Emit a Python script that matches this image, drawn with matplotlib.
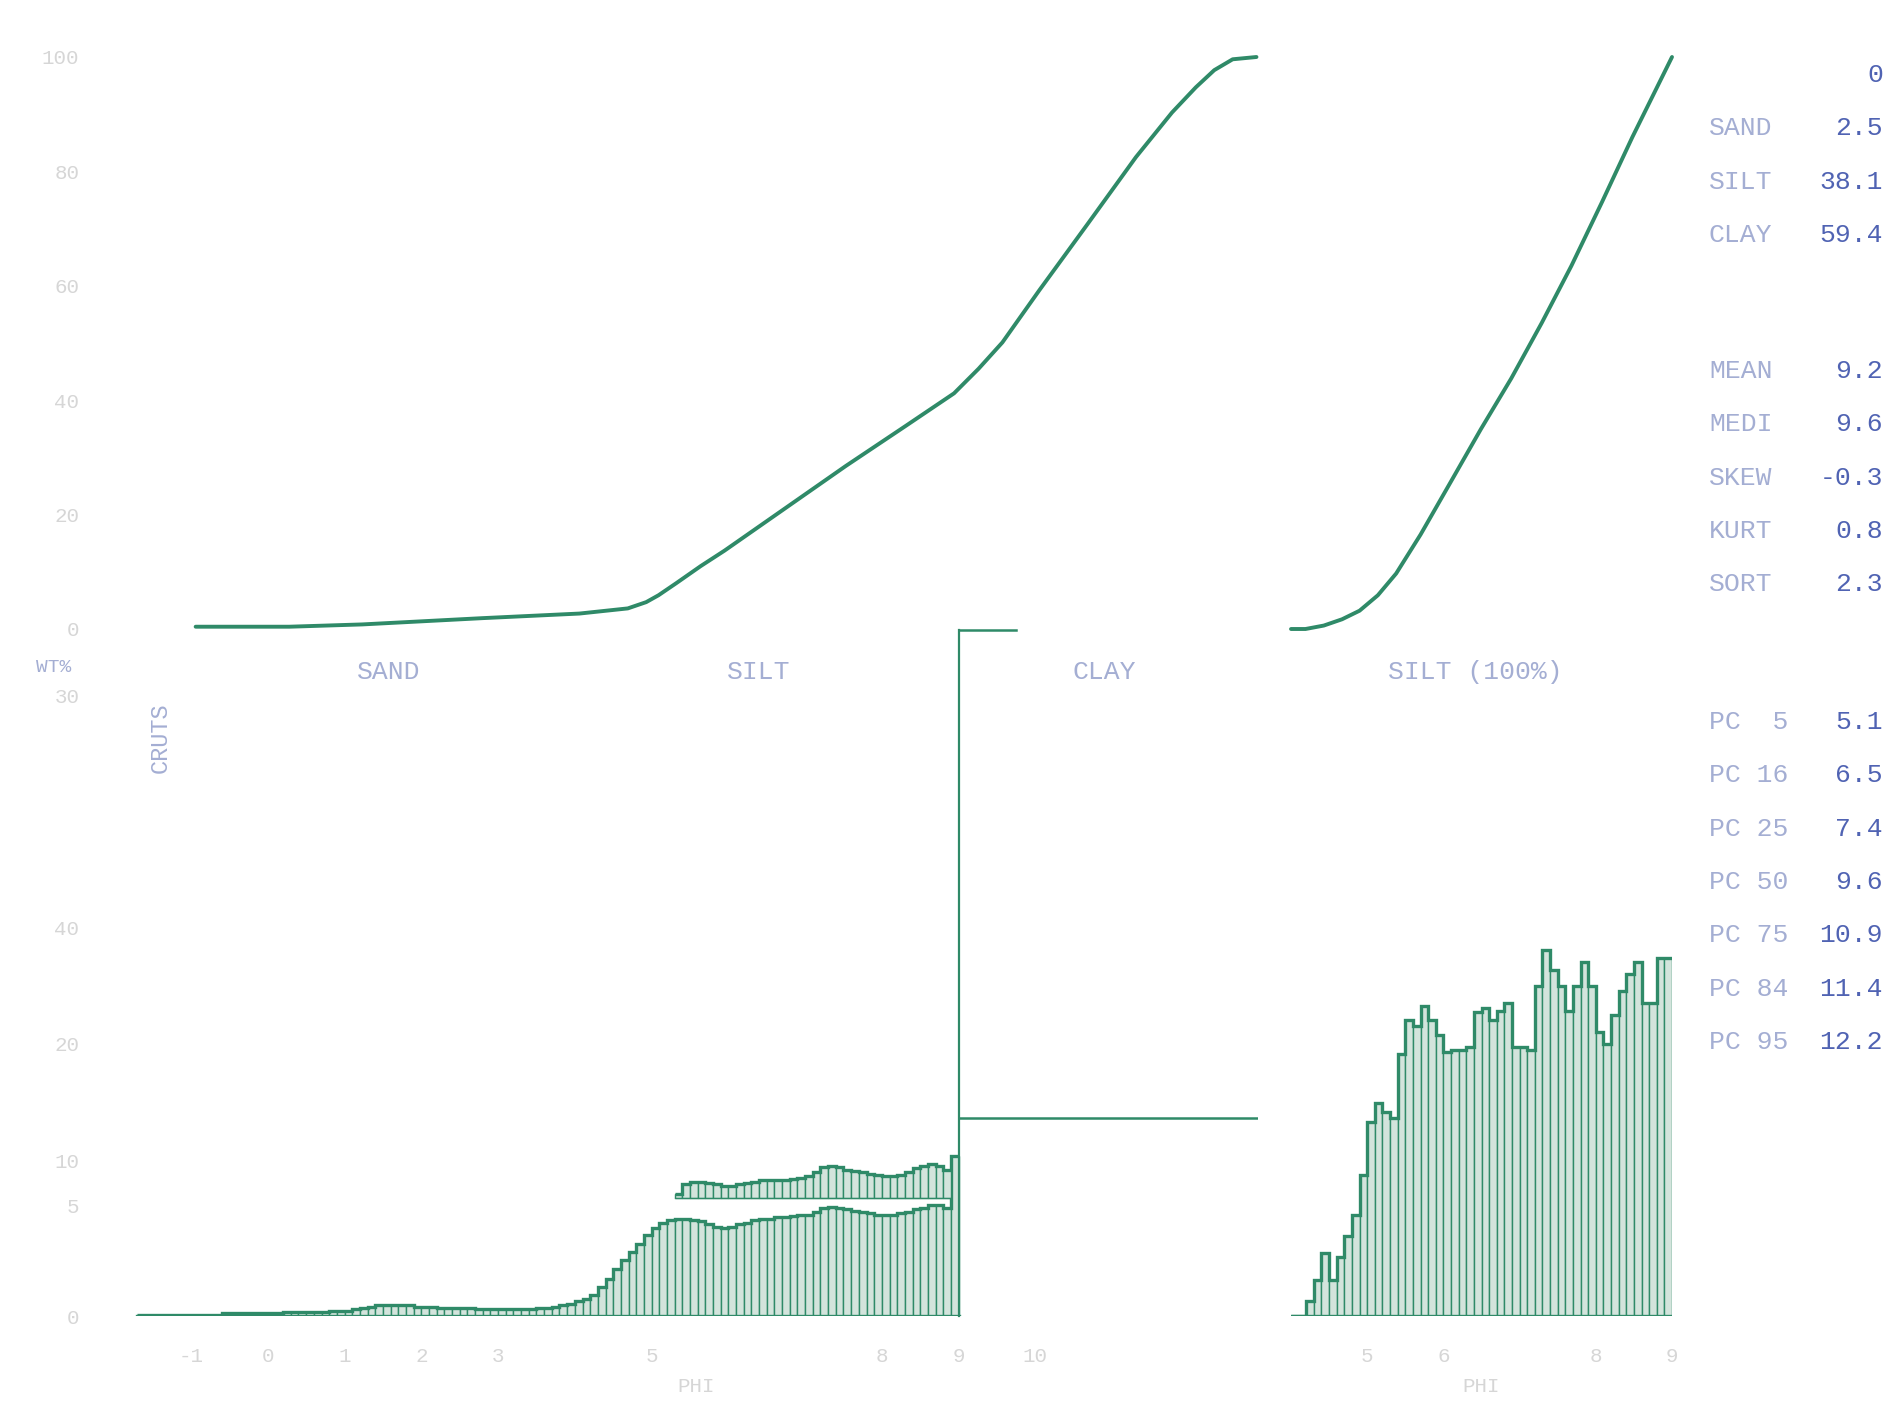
import numpy as np
import matplotlib.pyplot as plt

plt.rcParams['font.family'] = ['Liberation Mono', 'DejaVu Sans Mono']

GREEN = '#2f8a68'
FILL = '#d3e4dc'
LBL = '#a4aed3'
VAL = '#5063b3'
TICK = '#d6d6d6'

# cumulative curve, whole sample (phi, cumulative %)
cum_phi = [-0.94, 0.28, 1.23, 2.80, 4.06, 4.69, 4.93, 5.09, 5.32, 5.64, 5.95, 6.74,
           7.53, 8.31, 8.94, 9.26, 9.57, 10.05, 10.68, 11.31, 11.78, 12.09, 12.33,
           12.57, 12.88]
cum_pct = [0.4, 0.4, 0.8, 1.9, 2.7, 3.6, 4.7, 5.9, 8.0, 11.0, 13.7, 21.1,
           28.5, 35.5, 41.2, 45.5, 50.1, 59.2, 70.8, 82.5, 90.3, 94.7, 97.7,
           99.6, 100.0]

# cumulative curve, silt fraction recalculated to 100 %
silt_phi = [4.0, 4.19, 4.43, 4.67, 4.90, 5.14, 5.38, 5.70, 6.10, 6.49, 6.89, 7.29,
            7.68, 8.08, 8.48, 9.0]
silt_pct = [0.0, 0.0, 0.6, 1.7, 3.2, 5.9, 9.7, 16.5, 25.8, 34.9, 43.8, 53.5,
            63.5, 74.6, 86.0, 100.0]

# weight % per 0.1 phi class, from -1.7 to 9.0 phi
sand_wt = [0.01, 0.01, 0.01, 0.01, 0.01, 0.01, 0.01,
           0.01, 0.01, 0.01, 0.01, 0.02, 0.02, 0.02, 0.02, 0.02, 0.02,
           0.02, 0.02, 0.03, 0.03, 0.03, 0.03, 0.03, 0.03, 0.04, 0.04,
           0.04, 0.05, 0.06, 0.07, 0.08, 0.08, 0.08, 0.08, 0.08, 0.07,
           0.07, 0.07, 0.06, 0.06, 0.06, 0.06, 0.06, 0.05, 0.05, 0.05,
           0.05, 0.05, 0.05, 0.05, 0.05, 0.06, 0.06, 0.07, 0.08, 0.09]
silt_wt = [0.11, 0.13, 0.16, 0.22, 0.28, 0.35, 0.42, 0.48, 0.54, 0.61,
           0.66, 0.70, 0.72, 0.73, 0.73, 0.72, 0.71, 0.69, 0.67, 0.66,
           0.67, 0.69, 0.70, 0.72, 0.73, 0.73, 0.74, 0.74, 0.75, 0.76,
           0.76, 0.78, 0.81, 0.82, 0.81, 0.80, 0.79, 0.78, 0.77, 0.76,
           0.76, 0.76, 0.77, 0.78, 0.80, 0.81, 0.83, 0.83, 0.81, 1.20]
# double-struck copy of the silt histogram (5.3 to 8.9 phi), baseline 0.89
ghost_base = 0.89
ghost_wt = [0.92, 0.99, 1.01, 1.01, 1.00, 0.99, 0.98,
            0.98, 0.99, 1.00, 1.01, 1.02, 1.02, 1.02, 1.02, 1.03, 1.04,
            1.05, 1.08, 1.12, 1.13, 1.12, 1.10, 1.09, 1.08, 1.07, 1.06,
            1.05, 1.05, 1.06, 1.08, 1.11, 1.13, 1.14, 1.13, 1.10]
# clay lumped beyond 9 phi
clay_start, clay_end = 9.0, 12.9
clay_level = 1.485
clay_mark, clay_mark_end = 5.15, 9.75

# silt (100 %) per 0.1 phi class, 4.0 to 9.0 phi
silt100_wt = [0.0, 0.0, 0.11, 0.27, 0.47, 0.27, 0.44, 0.60, 0.76, 1.06,
              1.46, 1.60, 1.53, 1.49, 1.97, 2.22, 2.18, 2.33, 2.22, 2.11,
              1.98, 2.00, 2.00, 2.02, 2.28, 2.31, 2.22, 2.29, 2.35, 2.02,
              2.02, 2.00, 2.48, 2.75, 2.60, 2.48, 2.29, 2.48, 2.66, 2.48,
              2.13, 2.04, 2.26, 2.44, 2.57, 2.66, 2.35, 2.35, 2.69, 2.69]

stat_names = ['', 'SAND', 'SILT', 'CLAY']
stat_vals = ['0', '2.5', '38.1', '59.4']
mom_names = ['MEAN', 'MEDI', 'SKEW', 'KURT', 'SORT']
mom_vals = ['9.2', '9.6', '-0.3', '0.8', '2.3']
pc_names = ['PC  5', 'PC 16', 'PC 25', 'PC 50', 'PC 75', 'PC 84', 'PC 95']
pc_vals = ['5.1', '6.5', '7.4', '9.6', '10.9', '11.4', '12.2']

fig = plt.figure(figsize=(18.96, 14.12), dpi=100)
W, H = 1896, 1412


def rect(x0, y0, x1, y1):
    return [x0 / W, 1 - y1 / H, (x1 - x0) / W, (y1 - y0) / H]


ax1 = fig.add_axes(rect(135, 57, 1258, 629))
ax2 = fig.add_axes(rect(1291, 57, 1672, 629))
ax3 = fig.add_axes(rect(135, 617, 1258, 1316))
ax4 = fig.add_axes(rect(1291, 617, 1672, 1316))
for ax in (ax1, ax2, ax3, ax4):
    ax.set_facecolor('none')
    for s in ax.spines.values():
        s.set_visible(False)
    ax.tick_params(length=0, colors=TICK, labelsize=15)

# top-left cumulative
ax1.plot(cum_phi, cum_pct, color=GREEN, lw=2.8, clip_on=False,
         solid_joinstyle='round', solid_capstyle='round')
ax1.set_xlim(-1.73, 12.9)
ax1.set_ylim(0, 100)
ax1.set_xticks([])
ax1.set_yticks([0, 20, 40, 60, 80, 100], ['0', '20', '40', '60', '80', '100'])
ax1.tick_params(axis='y', pad=40)

# top-right cumulative (silt 100 %)
ax2.plot(silt_phi, silt_pct, color=GREEN, lw=2.8, clip_on=False,
         solid_joinstyle='round', solid_capstyle='round')
ax2.set_xlim(4.0, 9.0)
ax2.set_ylim(0, 100)
ax2.set_xticks([])
ax2.set_yticks([])

# bottom-left histogram
edges = np.round(np.arange(-1.7, 9.0001, 0.1), 2)
wt = sand_wt + silt_wt
ax3.bar(edges[:-1], wt, width=0.1, align='edge', facecolor=FILL,
        edgecolor=GREEN, lw=1.0)
ax3.stairs(wt, edges, baseline=None, color=GREEN, lw=2.4)
ax3.plot([edges[0], edges[-1]], [0, 0], color=GREEN, lw=2.4)
g_edges = np.round(np.arange(5.3, 8.9001, 0.1), 2)
g_h = [v - ghost_base for v in ghost_wt]
ax3.bar(g_edges[:-1], g_h, bottom=ghost_base, width=0.1, align='edge',
        facecolor=FILL, edgecolor=GREEN, lw=1.0)
ax3.stairs(ghost_wt, g_edges, baseline=None, color=GREEN, lw=2.4)
ax3.plot([g_edges[0], g_edges[-1]], [ghost_base, ghost_base], color=GREEN, lw=1.0, alpha=0.6)
ax3.plot([clay_start, clay_start], [0, clay_mark], color=GREEN, lw=1.6, clip_on=False)
ax3.plot([clay_start, clay_mark_end], [clay_mark, clay_mark], color=GREEN, lw=1.8, clip_on=False)
ax3.plot([clay_start, clay_end], [clay_level, clay_level], color=GREEN, lw=1.8)
ax3.set_xlim(-1.73, 12.9)
ax3.set_ylim(0, 5.25)
ax3.set_xticks([-1, 0, 1, 2, 3, 5, 8, 9, 10], ['-1', '0', '1', '2', '3', '5', '8', '9', '10'])
ax3.set_yticks([0, 0.83, 1.17, 2.05, 2.92, 3.69, 4.66], ['0', '5', '10', '20', '40', '', '30'])
ax3.tick_params(axis='x', pad=22)
ax3.tick_params(axis='y', pad=40)
ax3.set_xlabel('PHI', color=TICK, fontsize=15, labelpad=8)

# bottom-right histogram (silt 100 %)
s_edges = np.round(np.arange(4.0, 9.0001, 0.1), 2)
ax4.bar(s_edges[:-1], silt100_wt, width=0.1, align='edge', facecolor=FILL,
        edgecolor=GREEN, lw=1.0)
ax4.stairs(silt100_wt, s_edges, baseline=None, color=GREEN, lw=2.4)
ax4.plot([s_edges[0], s_edges[-1]], [0, 0], color=GREEN, lw=2.4)
ax4.set_xlim(4.0, 9.0)
ax4.set_ylim(0, 5.25)
ax4.set_xticks([5, 6, 8, 9], ['5', '6', '8', '9'])
ax4.set_yticks([])
ax4.tick_params(axis='x', pad=22)
ax4.set_xlabel('PHI', color=TICK, fontsize=15, labelpad=8)

# fraction labels
for x, s in [(389, 'SAND'), (759, 'SILT'), (1104, 'CLAY'), (1475, 'SILT (100%)')]:
    fig.text(x / W, 1 - 672 / H, s, color=LBL, fontsize=19, ha='center', va='center')
fig.text(36 / W, 1 - 667 / H, 'WT%', color=LBL, fontsize=14, ha='left', va='center')
fig.text(160 / W, 1 - 738 / H, 'CRUTS', color=LBL, fontsize=17, ha='center',
         va='center', rotation=90)

# statistics column
rows = [(75, stat_names, stat_vals), (371, mom_names, mom_vals), (722, pc_names, pc_vals)]
for y0, names, vals in rows:
    for i, (n, v) in enumerate(zip(names, vals)):
        y = y0 + i * 53.3
        fig.text(1709 / W, 1 - y / H, n, color=LBL, fontsize=19, ha='left', va='center')
        fig.text(1883 / W, 1 - y / H, v, color=VAL, fontsize=19, ha='right', va='center')

fig.savefig('out.png', dpi=100, facecolor='white')
